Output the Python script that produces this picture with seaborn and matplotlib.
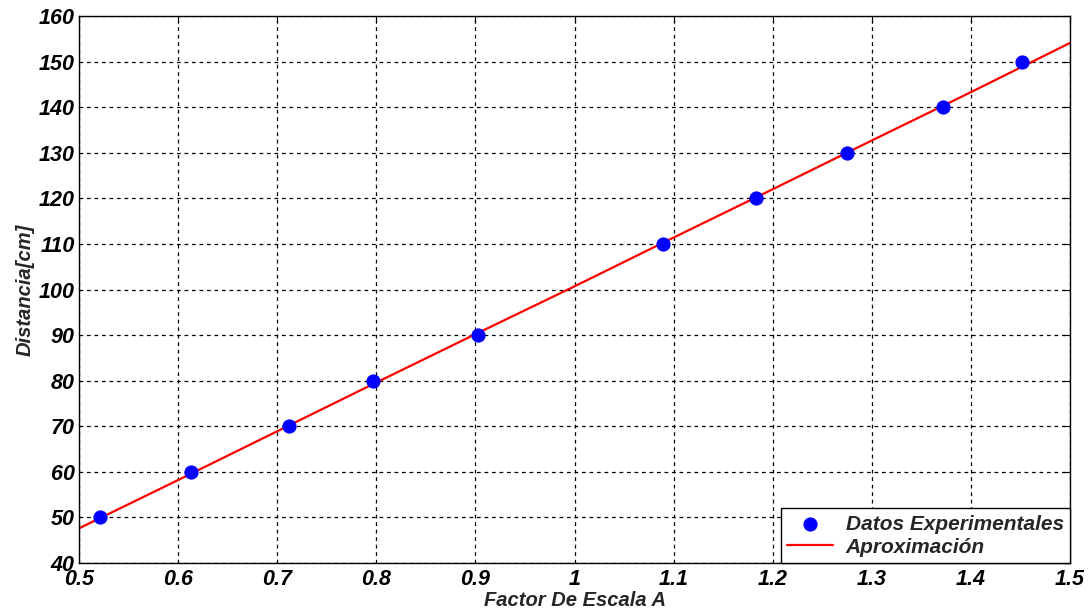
import matplotlib
matplotlib.use("Agg")
import matplotlib.pyplot as plt
import seaborn as sns
import pandas as pd

# Datos experimentales
factor_escala = [0.521, 0.613, 0.712, 0.797, 0.903, 1.089, 1.183, 1.275, 1.372, 1.452]
distancia = [50, 60, 70, 80, 90, 110, 120, 130, 140, 150]

# Aproximacion
aprox_x = [0.5, 0.6, 0.7, 0.8, 0.9, 1.0, 1.1, 1.2, 1.3, 1.4, 1.5]
aprox_y = [47.6, 58.2, 68.9, 79.6, 90.2, 100.7, 111.4, 122.0, 132.7, 143.3, 154.1]

x_ticks = [0.5, 0.6, 0.7, 0.8, 0.9, 1.0, 1.1, 1.2, 1.3, 1.4, 1.5]
x_tick_labels = ["0.5", "0.6", "0.7", "0.8", "0.9", "1", "1.1", "1.2", "1.3", "1.4", "1.5"]
y_ticks = list(range(40, 161, 10))

df_datos = pd.DataFrame({"x": factor_escala, "y": distancia})
df_aprox = pd.DataFrame({"x": aprox_x, "y": aprox_y})

sns.set_style("white")
plt.rcParams["font.family"] = ["Liberation Sans", "DejaVu Sans"]
plt.rcParams["font.weight"] = "bold"
plt.rcParams["font.style"] = "italic"

fig = plt.figure(figsize = (10.92, 6.16), dpi = 100)
ax = fig.add_axes([0.0723, 0.086, 0.9076, 0.888])

sns.scatterplot(data = df_datos, x = "x", y = "y", ax = ax, color = "blue",
                s = 105, edgecolor = "blue", linewidth = 0, zorder = 3,
                label = "Datos Experimentales")
sns.lineplot(data = df_aprox, x = "x", y = "y", ax = ax, color = "red",
             linewidth = 1.6, zorder = 2, label = "Aproximación")

ax.set_xlim(0.5, 1.5)
ax.set_ylim(40, 160)
ax.set_xticks(x_ticks)
ax.set_xticklabels(x_tick_labels)
ax.set_yticks(y_ticks)

ax.grid(True, color = "black", linestyle = (0, (3, 3)), linewidth = 0.9)
ax.tick_params(direction = "in", length = 5, width = 0.8, colors = "black",
               labelsize = 15.5, top = True, right = True)
ax.tick_params(axis = "x", pad = 4)
ax.tick_params(axis = "y", pad = 3)
for lab in ax.get_xticklabels() + ax.get_yticklabels():
    lab.set_fontweight("bold")
    lab.set_fontstyle("italic")

for sp in ax.spines.values():
    sp.set_color("black")
    sp.set_linewidth(1.0)

ax.set_xlabel("Factor De Escala A", fontsize = 14.5, fontweight = "bold",
              fontstyle = "italic", labelpad = 1)
ax.set_ylabel("Distancia[cm]", fontsize = 14.5, fontweight = "bold",
              fontstyle = "italic", labelpad = 3)

leg = ax.legend(loc = "lower right", fontsize = 15, frameon = True, fancybox = False,
                borderaxespad = 0, handlelength = 2.2, borderpad = 0.3,
                labelspacing = 0.2, handletextpad = 0.6)
leg.get_frame().set_edgecolor("black")
leg.get_frame().set_linewidth(1.0)
leg.get_frame().set_alpha(1)
for t in leg.get_texts():
    t.set_fontweight("bold")
    t.set_fontstyle("italic")

plt.savefig("out.png", dpi = 100)
